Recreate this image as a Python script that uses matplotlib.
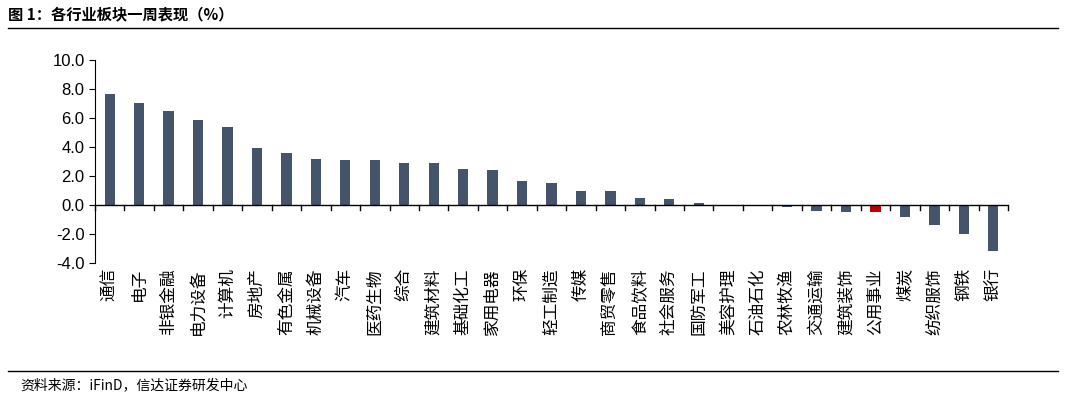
import matplotlib
matplotlib.use("Agg")
import matplotlib.pyplot as plt
from matplotlib.ticker import FixedLocator

plt.rcParams['font.family'] = ['Noto Sans CJK SC', 'DejaVu Sans']

categories = ["通信","电子","非银金融","电力设备","计算机","房地产","有色金属","机械设备","汽车","医药生物",
              "综合","建筑材料","基础化工","家用电器","环保","轻工制造","传媒","商贸零售","食品饮料","社会服务",
              "国防军工","美容护理","石油石化","农林牧渔","交通运输","建筑装饰","公用事业","煤炭","纺织服饰","钢铁","银行"]
values = [7.65,7.03,6.48,5.86,5.38,3.93,3.59,3.17,3.10,3.10,
          2.90,2.90,2.48,2.41,1.66,1.52,0.97,0.97,0.48,0.41,
          0.14,0.03,-0.05,-0.15,-0.42,-0.48,-0.50,-0.85,-1.35,-2.00,-3.15]
highlight = "公用事业"

fig = plt.figure(figsize=(10.66, 4.0), dpi=100)
ax = fig.add_axes([95/1066, 1-263/400, 913/1066, 203/400])
colors = ['#c00000' if c == highlight else '#44546a' for c in categories]
x = list(range(len(categories)))
ax.bar(x, values, width=0.35, color=colors)
ax.set_xlim(-0.5, len(categories)-0.5)
ax.set_ylim(-4, 10)
ax.set_yticks([-4,-2,0,2,4,6,8,10])
ax.set_yticklabels([f"{v:.1f}" for v in [-4,-2,0,2,4,6,8,10]], fontsize=12, family='Liberation Sans')
for s in ['top','right','bottom']:
    ax.spines[s].set_visible(False)
ax.spines['left'].set_color('black')
ax.axhline(0, color='black', lw=1)
ax.set_xticks([])
ax.tick_params(axis='y', length=4, direction='out')
# category separators on zero line
for i in range(len(categories)+1):
    ax.plot([i-0.5, i-0.5], [0, -0.35], color='black', lw=1, clip_on=False)
for i, c in enumerate(categories):
    ax.text(i, -4.35, c, rotation=90, ha='center', va='top', fontsize=12)

fig.text(8/1066, 1-14/400, "图 1：各行业板块一周表现（%）", fontsize=11, fontweight='bold', va='center', ha='left')
fig.add_artist(plt.Line2D([8/1066, 1058/1066], [1-28/400, 1-28/400], color='black', lw=1))
fig.add_artist(plt.Line2D([8/1066, 1058/1066], [1-371/400, 1-371/400], color='black', lw=1))
fig.text(20/1066, 1-385/400, "资料来源：iFinD，信达证券研发中心", fontsize=10, style='italic', va='center', ha='left')

fig.savefig("out.png", dpi=100)
